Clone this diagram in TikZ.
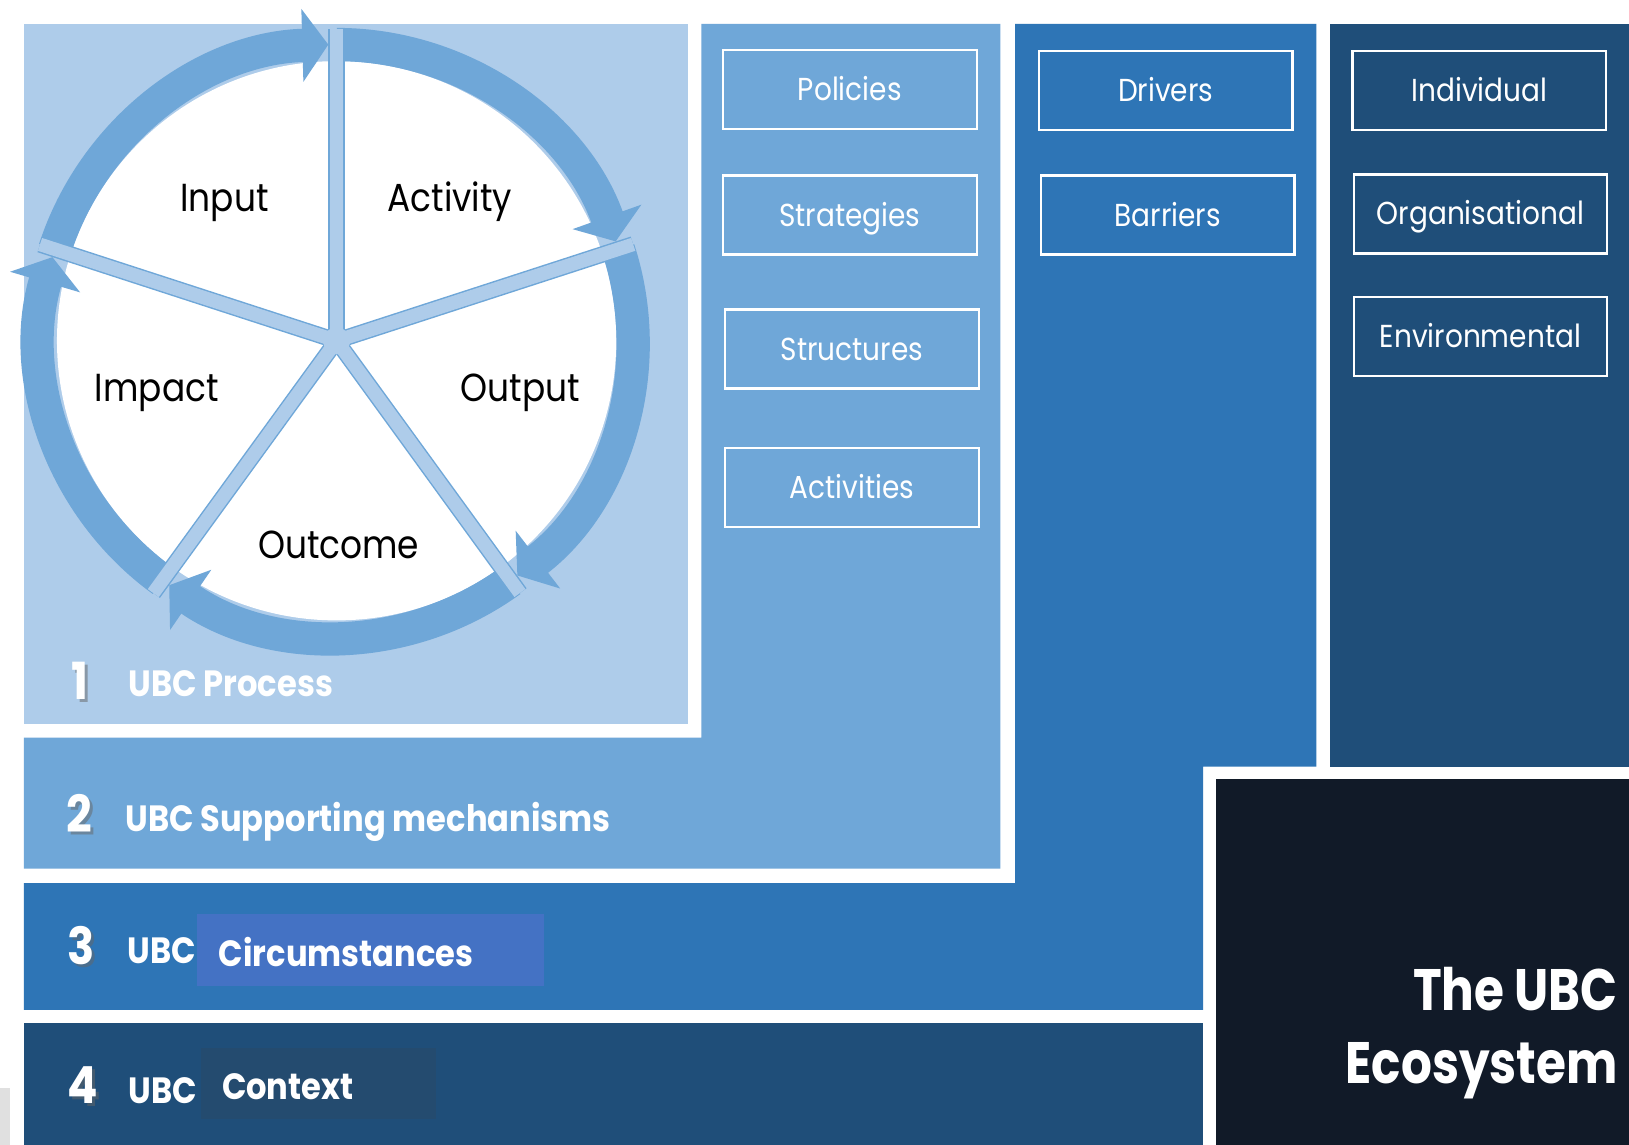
\documentclass[tikz,border=0pt]{standalone}
\usepackage{fontspec}
\setmainfont{Poppins}
\newfontfamily\gothic[FakeStretch=0.88]{Poppins}
\newfontfamily\gothicnarrow[FakeStretch=0.83]{Poppins}
\usetikzlibrary{arrows.meta}
\definecolor{procblue}{HTML}{AECCEA}
\definecolor{mechblue}{HTML}{6FA7D8}
\definecolor{circblue}{HTML}{2E75B6}
\definecolor{contblue}{HTML}{1F4E79}
\definecolor{ecoblack}{HTML}{111A28}
\definecolor{circmark}{HTML}{4472C4}
\definecolor{contmark}{HTML}{244B6F}

\begin{document}
\begin{tikzpicture}[x=0.01cm,y=-0.01cm,
  item/.style={draw=white,line width=0.6pt,text=white,minimum width=2.44cm,minimum height=0.76cm,text height=6pt,text depth=0pt,font=\gothic\fontsize{8.7}{10}\selectfont},
  part/.style={anchor=base,font=\gothic\fontsize{10.7}{13}\selectfont},
  layer/.style={anchor=base west,text=white,inner sep=0pt,font=\gothic\bfseries\fontsize{10}{12}\selectfont},
  num/.style={anchor=base west,text=white,inner sep=0pt,font=\gothic\bfseries\fontsize{14}{16}\selectfont},
  numshadow/.style={num,text=black!60,opacity=0.5},
  eco/.style={anchor=base east,text=white,inner sep=0pt,font=\gothicnarrow\bfseries\fontsize{16}{18}\selectfont},
  ring/.style={mechblue,line width=0.32cm,-{Triangle[length=0.25cm,width=0.69cm]}},
  spoke/.style={draw=mechblue,line width=0.4pt,double=procblue,double distance=0.13cm}]
\useasboundingbox (0,0) rectangle (1568,1102);
\fill[white] (0,0) rectangle (1568,1102);
\fill[contblue] (1280,23) rectangle (1568,738);
\fill[contblue] (23,985) rectangle (1158,1102);
\fill[circblue] (977,23) -- (1267,23) -- (1267,738) -- (1158,738) -- (1158,972) -- (23,972) -- (23,850) -- (977,850) -- cycle;
\fill[mechblue] (675,23) -- (963,23) -- (963,836) -- (23,836) -- (23,710) -- (675,710) -- cycle;
\fill[procblue] (23,23) rectangle (662,697);
\fill[ecoblack] (1170,750) rectangle (1568,1102);
\fill[black!12] (0,1047) rectangle (10,1102);
\fill[circmark] (190,880) rectangle (524,949);
\fill[contmark] (193,1009) rectangle (420,1077);

\coordinate (hub) at (324,328);
\fill[white] (hub) circle (2.69cm);
\draw[ring] ([shift={(hub)}]162:2.85cm) arc[start angle=162,end angle=91.6,radius=2.85cm];
\draw[ring] ([shift={(hub)}]90:2.85cm) arc[start angle=90,end angle=19.6,radius=2.85cm];
\draw[ring] ([shift={(hub)}]18:2.85cm) arc[start angle=18,end angle=-52.4,radius=2.85cm];
\draw[ring] ([shift={(hub)}]-54:2.85cm) arc[start angle=-54,end angle=-124.4,radius=2.85cm];
\draw[ring] ([shift={(hub)}]-126:2.85cm) arc[start angle=-126,end angle=-196.4,radius=2.85cm];
\foreach \a in {90,18,-54,-126,162}
  \draw[spoke] (hub) -- ([shift={(hub)}]\a:3.0cm);
\fill[procblue] (hub) circle (0.13cm);

\node[part] (input) at (216,204) {Input};
\node[part] (activity) at (433,204) {Activity};
\node[part] (impact) at (151,386) {Impact};
\node[part] (output) at (501,386) {Output};
\node[part] (outcome) at (326,538) {Outcome};

\node[item] (policies) at (818,86) {Policies};
\node[item] (strategies) at (818,207) {Strategies};
\node[item] (structures) at (820,336) {Structures};
\node[item] (activities) at (820,469) {Activities};
\node[item] (drivers) at (1122,87) {Drivers};
\node[item] (barriers) at (1124,207) {Barriers};
\node[item] (individual) at (1424,87) {Individual};
\node[item] (organisational) at (1425,206) {Organisational};
\node[item] (environmental) at (1425,324) {Environmental};

\node[numshadow] at (71,676) {1};
\node[num] (one) at (68,673) {1};
\node[layer] (process) at (123,670) {UBC Process};
\node[numshadow] at (66,804) {2};
\node[num] (two) at (63,801) {2};
\node[layer] (mechanisms) at (120,800) {UBC Supporting mechanisms};
\node[numshadow] at (67,931) {3};
\node[num] (three) at (64,928) {3};
\node[layer] (ubcthree) at (122,927) {UBC};
\node[layer] (circumstances) at (210,930) {Circumstances};
\node[numshadow] at (67,1065) {4};
\node[num] (four) at (64,1062) {4};
\node[layer] (ubcfour) at (123,1062) {UBC};
\node[layer] (context) at (213,1058) {Context};

\node[eco] (the) at (1558,973) {The UBC};
\node[eco] (ecosystem) at (1558,1043) {Ecosystem};
\end{tikzpicture}
\end{document}
